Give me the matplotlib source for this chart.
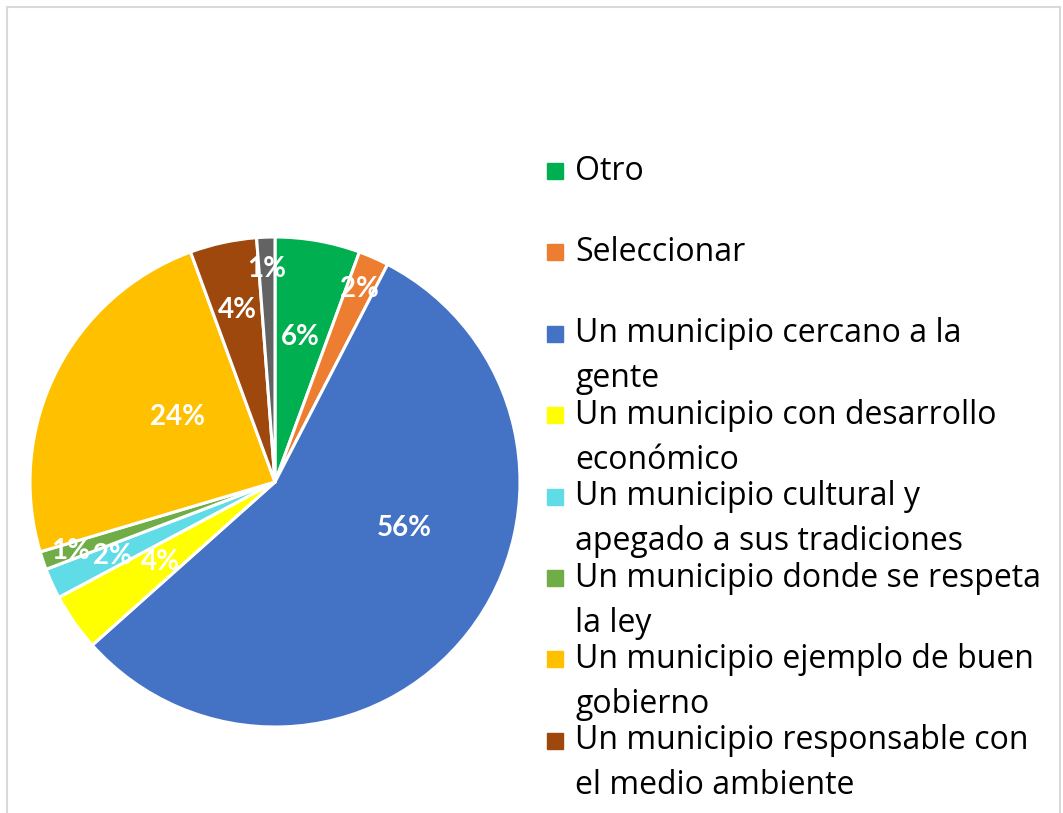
import numpy as np
import matplotlib.pyplot as plt
from matplotlib.patches import Rectangle

# Categories and shares (%)
categories = [
    "Otro",
    "Seleccionar",
    "Un municipio cercano a la\ngente",
    "Un municipio con desarrollo\neconómico",
    "Un municipio cultural y\napegado a sus tradiciones",
    "Un municipio donde se respeta\nla ley",
    "Un municipio ejemplo de buen\ngobierno",
    "Un municipio responsable con\nel medio ambiente",
    "(en blanco)",
]
shares = [5.6, 2.0, 55.8, 3.8, 2.0, 1.2, 24.0, 4.4, 1.2]
colors = ["#00b050", "#ed7d31", "#4472c4", "#ffff00", "#5fdce6",
          "#70ad47", "#ffc000", "#9e480e", "#636363"]

# label placement: distance from centre and angle nudge (deg) per slice
label_dist = [0.6, 0.86, 0.56, 0.57, 0.73, 0.88, 0.48, 0.72, 0.87]
label_turn = [0, 0, 18, 0, 0, 0, -7, 0, 0]

W, H = 1063, 813
fig = plt.figure(figsize=(W / 100, H / 100), dpi=100)

# pie: centre (275, 482) px, radius 245 px
cx, cy, r = 275, 482, 245
ax = fig.add_axes([(cx - r) / W, (H - cy - r) / H, 2 * r / W, 2 * r / H])
wedges, texts, autotexts = ax.pie(
    shares, colors=colors, startangle=90, counterclock=False,
    autopct="%.0f%%", radius=1,
    wedgeprops=dict(edgecolor="white", linewidth=2.2),
    textprops=dict(color="white", fontsize=20, fontweight="bold", family="Lato"))
ax.set_xlim(-1, 1)
ax.set_ylim(-1, 1)
ax.set_aspect("equal")
ax.axis("off")

for w, t, d, turn in zip(wedges, autotexts, label_dist, label_turn):
    ang = np.deg2rad((w.theta1 + w.theta2) / 2 + turn)
    t.set_position((d * np.cos(ang), d * np.sin(ang)))

# legend drawn by hand to match the wrapped layout (grey slice not listed)
tx, sq_x, sq = 575, 547, 16
y0, step, line_gap = 171, 81.4, 45
for i, (name, col) in enumerate(zip(categories[:8], colors[:8])):
    y = y0 + i * step
    fig.patches.append(Rectangle((sq_x / W, 1 - (y + sq / 2) / H), sq / W, sq / H,
                                 transform=fig.transFigure, color=col))
    for j, line in enumerate(name.split("\n")):
        fig.text(tx / W, 1 - (y + j * line_gap) / H, line, fontsize=23,
                 family="Open Sans", va="center", ha="left", color="black")

# chart border
fig.patches.append(Rectangle((7 / W, -0.1), (1060 - 7) / W, 1.1 - 7 / H,
                             transform=fig.transFigure, fill=False,
                             edgecolor="#d9d9d9", linewidth=1.5))

fig.savefig("out.png", dpi=100, facecolor="white")
